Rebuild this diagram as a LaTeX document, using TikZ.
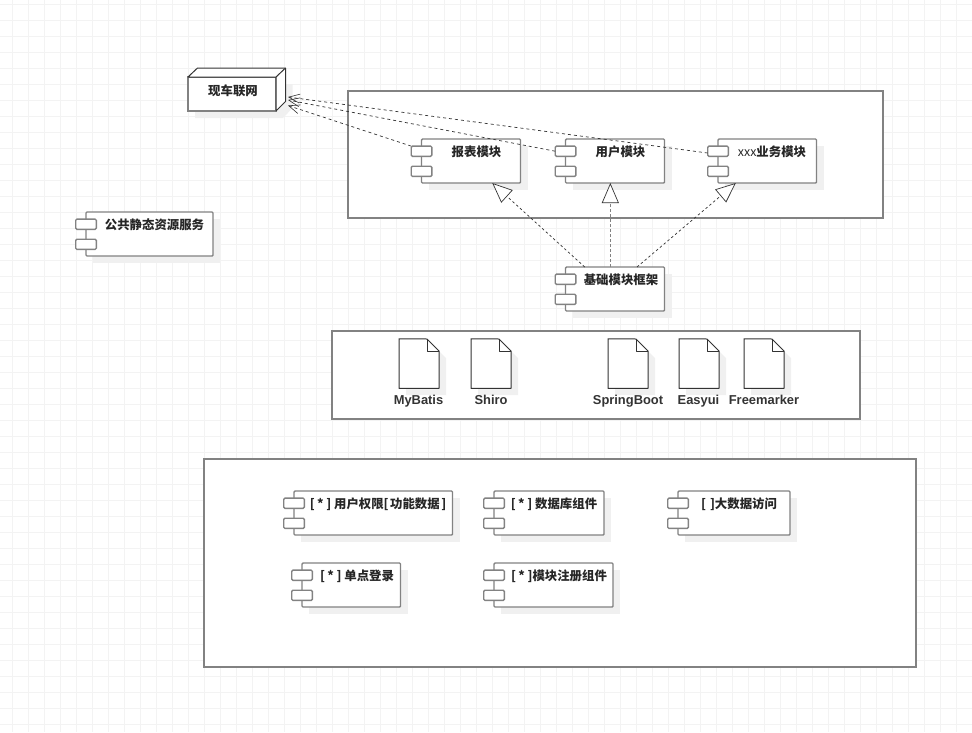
\documentclass[tikz,border=0pt]{standalone}
\usepackage{fontspec}
\setmainfont{Liberation Sans}
\newfontfamily\cjk{Noto Sans CJK SC}
\usetikzlibrary{arrows.meta,calc}
\definecolor{gridc}{HTML}{F3F3F3}
\definecolor{shadowc}{HTML}{F0F0F0}
\definecolor{inkc}{HTML}{333333}
\definecolor{edgec}{HTML}{828282}
\tikzset{
  box/.style={draw=edgec,line width=1.4pt,fill=white,rectangle,inner sep=0pt,outer sep=0pt},
  compbox/.style={box,rounded corners=1pt},
  portbox/.style={box,rounded corners=1.2pt,minimum width=20.6pt,minimum height=10.2pt},
  compname/.style={font=\cjk\bfseries\fontsize{12.4}{14}\selectfont,text=black!85,inner sep=0pt,anchor=base},
  docname/.style={font=\bfseries\fontsize{12.9}{14}\selectfont,text=black!80,inner sep=0pt,anchor=base},
  shadowfill/.style={fill=shadowc,draw=none},
  dep/.style={draw=inkc,line width=.7pt,dash pattern=on 3pt off 3pt,-{Straight Barb[length=11pt,width=9pt,line width=.6pt]}},
  realize/.style={draw=inkc,line width=.7pt,dash pattern=on 2.5pt off 2.5pt,-{Triangle[open,length=20pt,width=17pt,fill=white,line width=.7pt]}},
  realizemid/.style={realize,draw=edgec,line width=1.4pt,dash pattern=on 3pt off 2pt,-{Triangle[open,length=20pt,width=17pt,fill=white,line width=.7pt,color=inkc]}},
  container/.style={box},
}
\newcommand{\starmark}{[\kern2.4pt*\kern2.6pt]}
\newcommand{\comp}[7]{%
  \fill[shadowfill] ({#2+7},{#3+7}) rectangle ({#4+7},{#5+7});
  \node[compbox,minimum width={(#4-#2)*1pt},minimum height={(#5-#3)*1pt}] (#1) at ({(#2+#4)/2},{(#3+#5)/2}) {};
  \node[portbox] (#1-pa) at ({#2},{#3+12.2}) {};
  \node[portbox] (#1-pb) at ({#2},{#3+32.3}) {};
  \node[compname] (#1-t) at ({#6},{#3+17.5}) {#7};
}
\newcommand{\docu}[2]{%
  \fill[shadowfill] ({#2+7},{339+7}) -- ({#2+28+7},{339+7}) -- ({#2+40+7},{351+7}) -- ({#2+40+7},{388+7}) -- ({#2+7},{388+7}) -- cycle;
  \node[rectangle,minimum width=40pt,minimum height=49.5pt,inner sep=0pt,outer sep=0pt] (#1) at ({#2+20},363.5) {};
  \draw[draw=inkc,line width=1pt,fill=white,line join=round] (#1.north west) -- ({#2+28},339) -- ({#2+40},351) -- (#1.south east) -- (#1.south west) -- cycle;
  \draw[draw=inkc,line width=1pt,line join=round] ({#2+28},339) -- ({#2+28},351) -- ({#2+40},351);
}
\begin{document}
\begin{tikzpicture}[x=1pt,y=-1pt]
\useasboundingbox (0,0) rectangle (972,732);
\fill[white] (0,0) rectangle (972,732);
\foreach \i in {0,...,60} {\draw[gridc,line width=1pt] ({12.5+16*\i},0) -- ({12.5+16*\i},732);}
\foreach \i in {0,...,45} {\draw[gridc,line width=1pt] (0,{4.5+16*\i}) -- (972,{4.5+16*\i});}

% containers
\node[container,minimum width=535pt,minimum height=127pt] (frameA) at (615.5,154.5) {};
\node[container,minimum width=528pt,minimum height=88pt] (frameB) at (596,375) {};
\node[container,minimum width=712pt,minimum height=208pt] (frameC) at (560,563) {};

% 3D node
\fill[shadowfill] (195,84) -- (292.5,84) -- (292.5,108) -- (283,118) -- (195,118) -- cycle;
\node[box,minimum width=88pt,minimum height=34pt] (iov) at (232,94) {};
\draw[draw=inkc,line width=1pt,fill=white,line join=round] (iov.north west) -- (197.5,68) -- (285.5,68) -- (285.5,101.5) -- (iov.south east) -- (iov.north east) -- cycle;
\draw[draw=inkc,line width=1pt] (iov.north east) -- (285.5,68);
\node[compname] (iov-t) at (233,95.5) {现车联网};
\coordinate (iovA) at (288,97);
\coordinate (iovB) at (288,100);
\coordinate (iovC) at (288,105.5);

% components
\comp{pub}{86}{212}{213}{256}{154.5}{公共静态资源服务}
\comp{report}{421.5}{139}{520.5}{183}{476.5}{报表模块}
\comp{user}{565.5}{139}{664.5}{183}{620.5}{用户模块}
\comp{biz}{718}{139}{816.5}{183}{772}{{\mdseries xxx}业务模块}
\comp{base}{565.5}{267}{664.5}{311}{621}{基础模块框架}
\comp{auth}{294}{491}{452.5}{535}{378}{\starmark{} 用户权限[\kern1.5pt功能数据\kern1.5pt]}
\comp{db}{494}{491}{604}{535}{554}{\starmark{} 数据库组件}
\comp{bigd}{678}{491}{790}{535}{739}{[\kern4pt]大数据访问}
\comp{sso}{302}{563}{400.5}{607}{357}{\starmark{} 单点登录}
\comp{reg}{494}{563}{613}{607}{559}{\starmark{}模块注册组件}

% documents
\docu{mybatis}{399}
\docu{shiro}{471}
\docu{boot}{608}
\docu{easyui}{679}
\docu{fm}{744}
\node[docname] (mybatis-t) at (418.5,404.5) {MyBatis};
\node[docname] (shiro-t) at (491,404.5) {Shiro};
\node[docname] (boot-t) at (628,404.5) {SpringBoot};
\node[docname] (easyui-t) at (698.5,404.5) {Easyui};
\node[docname] (fm-t) at (764,404.5) {Freemarker};

% connectors
\draw[dep] (biz-pa.190) -- (iovA);
\draw[dep] (user-pa.west) -- (iovB);
\draw[dep] (report-pa.north west) -- (iovC);
\draw[realize] (base.144.3) -- (report.-46);
\draw[realizemid] (base.102.6) -- (user.-102.8);
\draw[realize] (base.45.4) -- (biz.-145.7);
\end{tikzpicture}
\end{document}
